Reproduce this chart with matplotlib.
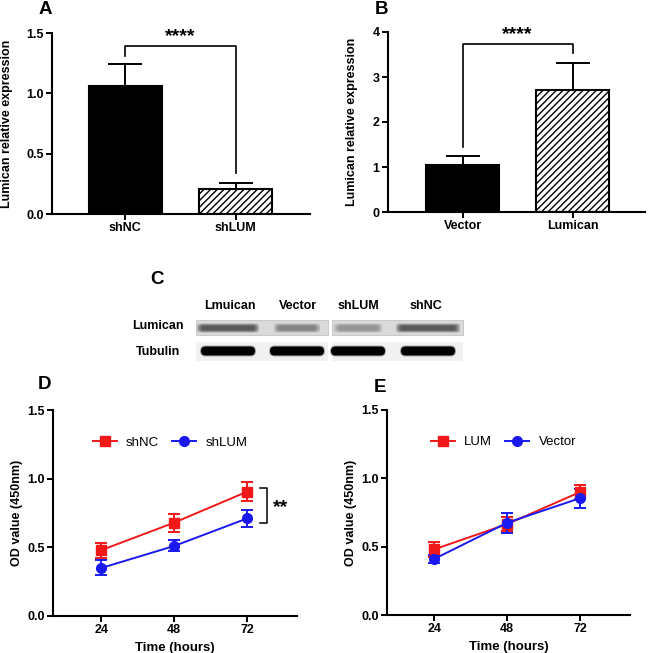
"""Lumican knockdown / overexpression figure: qPCR bars, western blot, CCK-8 curves."""
import matplotlib
matplotlib.use("Agg")
import matplotlib.pyplot as plt
from matplotlib.lines import Line2D
from matplotlib.patches import Rectangle, FancyBboxPatch

plt.rcParams["font.family"] = ["Liberation Sans", "DejaVu Sans"]

W, H = 649, 653

# ---- data -----------------------------------------------------------------
# A: knockdown qPCR
a_groups = ["shNC", "shLUM"]
a_means = [1.06, 0.21]
a_errs = [0.18, 0.05]

# B: overexpression qPCR
b_groups = ["Vector", "Lumican"]
b_means = [1.05, 2.72]
b_errs = [0.19, 0.59]

# C: western blot lanes (band intensity 0..1)
blot_lanes = ["Lmuican", "Vector", "shLUM", "shNC"]
blot_rows = ["Lumican", "Tubulin"]
lumican_band = [0.60, 0.35, 0.25, 0.60]
tubulin_band = [1.0, 1.0, 1.0, 1.0]

# D / E: OD450 time course
hours = [24, 48, 72]
d_shnc = [0.48, 0.68, 0.905]
d_shnc_err = [0.055, 0.065, 0.07]
d_shlum = [0.35, 0.51, 0.71]
d_shlum_err = [0.055, 0.04, 0.06]

e_lum = [0.48, 0.665, 0.90]
e_lum_err = [0.055, 0.05, 0.05]
e_vec = [0.41, 0.675, 0.855]
e_vec_err = [0.03, 0.075, 0.07]

RED = "#f01818"
BLUE = "#1a1af0"


def fx(px):
    return px / W


def fy(py):
    return 1 - py / H


def add_ax(x0, y0, x1, y1):
    """Axes from pixel box: x0,x1 left/right, y0 top, y1 bottom."""
    return fig.add_axes([fx(x0), fy(y1), (x1 - x0) / W, (y1 - y0) / H])


def style(ax):
    for s in ("top", "right"):
        ax.spines[s].set_visible(False)
    for s in ("left", "bottom"):
        ax.spines[s].set_linewidth(1.5)
    ax.tick_params(width=1.4, length=4, labelsize=9, pad=2)
    for lab in ax.get_xticklabels() + ax.get_yticklabels():
        lab.set_fontweight("bold")


fig = plt.figure(figsize=(W / 100, H / 100), dpi=100)

# ---- A --------------------------------------------------------------------
ax = add_ax(52, 33, 310, 214)
x = [0, 1]
ax.bar(x[0], a_means[0], 0.66, color="black", edgecolor="black", linewidth=1.5)
ax.bar(x[1], a_means[1], 0.66, color="white", edgecolor="black", linewidth=1.5,
       hatch="/////")
ax.errorbar(x, a_means, yerr=[[0, 0], a_errs], fmt="none", ecolor="black",
            elinewidth=1.4, capsize=12, capthick=1.4)
ax.plot([0, 0, 1, 1], [1.31, 1.39, 1.39, 0.34], color="black", lw=1.2, clip_on=False)
ax.text(0.5, 1.40, "****", ha="center", va="bottom", fontsize=14, fontweight="bold")
ax.set_xlim(-0.66, 1.67)
ax.set_ylim(0, 1.5)
ax.set_yticks([0, 0.5, 1.0, 1.5])
ax.set_yticklabels(["0.0", "0.5", "1.0", "1.5"])
ax.set_xticks(x)
ax.set_xticklabels(a_groups)
ax.tick_params(axis="x", length=0, pad=10)
ax.set_ylabel("Lumican relative expression", fontsize=9, fontweight="bold")
ax.yaxis.set_label_coords(-0.151, 0.5)
style(ax)

# ---- B --------------------------------------------------------------------
ax = add_ax(388, 32, 645, 212)
ax.bar(x[0], b_means[0], 0.66, color="black", edgecolor="black", linewidth=1.5)
ax.bar(x[1], b_means[1], 0.66, color="white", edgecolor="black", linewidth=1.5,
       hatch="/////")
ax.errorbar(x, b_means, yerr=[[0, 0], b_errs], fmt="none", ecolor="black",
            elinewidth=1.4, capsize=12, capthick=1.4)
ax.plot([0, 0, 1, 1], [1.44, 3.73, 3.73, 3.53], color="black", lw=1.2, clip_on=False)
ax.text(0.5, 3.75, "****", ha="center", va="bottom", fontsize=14, fontweight="bold")
ax.set_xlim(-0.68, 1.66)
ax.set_ylim(0, 4)
ax.set_yticks([0, 1, 2, 3, 4])
ax.set_xticks(x)
ax.set_xticklabels(b_groups)
ax.tick_params(axis="x", length=0, pad=10)
ax.set_ylabel("Lumican relative expression", fontsize=9, fontweight="bold")
ax.yaxis.set_label_coords(-0.117, 0.5)
style(ax)

# ---- C: western blot ------------------------------------------------------
bx = add_ax(190, 312, 470, 366)
bx.set_xlim(190, 470)
bx.set_ylim(366, 312)
bx.axis("off")
lane_x = [228, 297, 358, 428]
lane_w = [62, 46, 48, 64]
strips = [(196, 328), (332, 463)]
for sx0, sx1 in strips:
    bx.add_patch(Rectangle((sx0, 320), sx1 - sx0, 15, facecolor="#dadada",
                           edgecolor="#c4c4c4", lw=0.6))
    bx.add_patch(Rectangle((sx0, 342), sx1 - sx0, 19, facecolor="#f1f1f1",
                           edgecolor="none"))
for cx, w, li, ti in zip(lane_x, lane_w, lumican_band, tubulin_band):
    g = 1 - li
    for k, a in ((0, 0.35), (2, 0.5), (4, 0.7)):
        bx.add_patch(FancyBboxPatch((cx - w / 2 + k, 323.5 + k / 2), w - 2 * k, 9 - k,
                                    boxstyle="round,pad=0,rounding_size=3",
                                    facecolor=(g * 0.75, g * 0.75, g * 0.75), alpha=a,
                                    edgecolor="none"))
    tg = 1 - ti
    bx.add_patch(FancyBboxPatch((cx - 28, 345.5), 56, 11,
                                boxstyle="round,pad=0,rounding_size=5.5",
                                facecolor="#606060", alpha=0.5, edgecolor="none"))
    bx.add_patch(FancyBboxPatch((cx - 27, 346.5), 54, 9,
                                boxstyle="round,pad=0,rounding_size=4.5",
                                facecolor=(tg, tg, tg), edgecolor="none"))
for name, cx in zip(blot_lanes, [230, 298, 358, 426]):
    fig.text(fx(cx), fy(306), name, ha="center", va="center", fontsize=9,
             fontweight="bold")
for name, py in zip(blot_rows, [326, 352]):
    fig.text(fx(158), fy(py), name, ha="center", va="center", fontsize=9,
             fontweight="bold")


# ---- D / E ----------------------------------------------------------------
def od_panel(box, s1, e1, s2, e2, labels, xlim, bracket=False):
    ax = add_ax(*box)
    ax.errorbar(hours, s1, yerr=e1, color=RED, marker="s", ms=7, lw=1.4,
                capsize=4, capthick=1.4, elinewidth=1.4)
    ax.errorbar(hours, s2, yerr=e2, color=BLUE, marker="o", ms=7, lw=1.4,
                capsize=4, capthick=1.4, elinewidth=1.4)
    handles = [Line2D([], [], color=RED, marker="s", ms=7, lw=1.4),
               Line2D([], [], color=BLUE, marker="o", ms=7, lw=1.4)]
    ax.set_xlim(*xlim)
    ax.set_ylim(0, 1.5)
    ax.set_xticks(hours)
    ax.set_yticks([0, 0.5, 1.0, 1.5])
    ax.set_yticklabels(["0.0", "0.5", "1.0", "1.5"])
    ax.set_xlabel("Time (hours)", fontsize=9.5, fontweight="bold", labelpad=4)
    ax.set_ylabel("OD value (450nm)", fontsize=9, fontweight="bold")
    ax.yaxis.set_label_coords(-0.123, 0.5)
    ax.legend(handles, labels, loc="upper center", bbox_to_anchor=(0.48, 0.93),
              ncol=2, frameon=False, fontsize=9.5, handlelength=1.8,
              columnspacing=1.0, handletextpad=0.7)
    if bracket:
        ax.plot([76.3, 78.6, 78.6, 76.3], [0.93, 0.93, 0.68, 0.68], color="black",
                lw=1.1, clip_on=False)
        ax.text(80.5, 0.79, "**", ha="left", va="center", fontsize=14,
                fontweight="bold")
    style(ax)
    return ax


od_panel((53, 410, 297, 616), d_shnc, d_shnc_err, d_shlum, d_shlum_err,
         ["shNC", "shLUM"], (8, 88.5), bracket=True)
od_panel((387, 410, 630, 615), e_lum, e_lum_err, e_vec, e_vec_err,
         ["LUM", "Vector"], (8.5, 88.4))

# ---- panel letters ---------------------------------------------------------
for letter, px, py in (("A", 45, 10), ("B", 382, 10), ("C", 157, 279),
                       ("D", 45, 385), ("E", 380, 387)):
    fig.text(fx(px), fy(py), letter, ha="center", va="center", fontsize=13.5,
             fontweight="bold")

fig.savefig("out.png", dpi=100)
